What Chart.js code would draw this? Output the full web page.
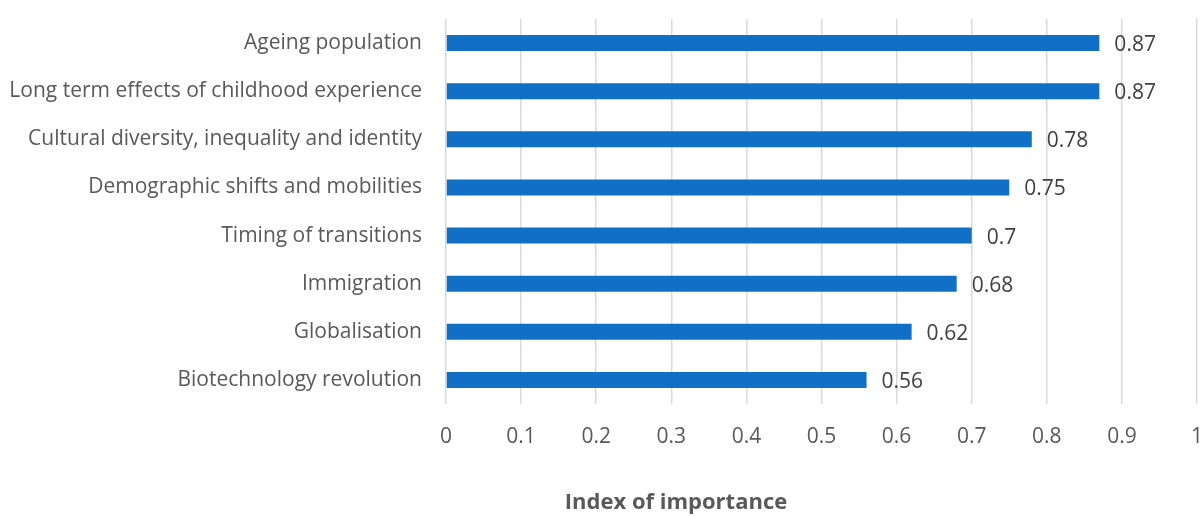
<!DOCTYPE html>
<html>
<head>
<meta charset="utf-8">
<script src="https://cdn.jsdelivr.net/npm/chart.js@4"></script>
<style>
  html, body { margin: 0; padding: 0; background: #fff; overflow: hidden; }
  #wrap { width: 1202px; height: 516px; }
</style>
</head>
<body>
<div id="wrap"><canvas id="importanceChart"></canvas></div>
<script>
const categories = [
  "Ageing population",
  "Long term effects of childhood experience",
  "Cultural diversity, inequality and identity",
  "Demographic shifts and mobilities",
  "Timing of transitions",
  "Immigration",
  "Globalisation",
  "Biotechnology revolution",
];
const importance = [0.87, 0.87, 0.78, 0.75, 0.7, 0.68, 0.62, 0.56];
const axisTitle = "Index of importance";

const FONT = "'Open Sans', 'Liberation Sans', sans-serif";

// value labels beside the bars, plus the x axis title
const valueLabels = {
  id: "valueLabels",
  afterDatasetsDraw(chart) {
    const ctx = chart.ctx;
    const meta = chart.getDatasetMeta(0);
    ctx.save();
    ctx.font = "21px " + FONT;
    ctx.fillStyle = "#404040";
    ctx.textAlign = "left";
    ctx.textBaseline = "middle";
    meta.data.forEach((bar, i) => {
      ctx.fillText(String(importance[i]), bar.x + 15, bar.y + 2);
    });

    ctx.font = "bold 22px " + FONT;
    ctx.fillStyle = "#595959";
    ctx.textAlign = "center";
    ctx.fillText(axisTitle, 676, 503);
    ctx.restore();
  },
};

new Chart(document.getElementById("importanceChart"), {
  type: "bar",
  data: {
    labels: categories,
    datasets: [
      {
        data: importance,
        backgroundColor: "#1170c6",
        categoryPercentage: 1,
        barPercentage: 0.33,
      },
    ],
  },
  options: {
    indexAxis: "y",
    responsive: true,
    maintainAspectRatio: false,
    animation: false,
    layout: { padding: { top: 19, left: 0, right: 0, bottom: 0 } },
    plugins: {
      legend: { display: false },
      tooltip: { enabled: false },
    },
    scales: {
      x: {
        min: 0,
        max: 1,
        ticks: {
          stepSize: 0.1,
          padding: 20,
          color: "#595959",
          font: { family: FONT, size: 21 },
          callback: (v) => String(Math.round(v * 10) / 10),
        },
        grid: { color: "#d9d9d9", lineWidth: 1.5, drawTicks: false },
        border: { display: false },
        afterFit(scale) {
          scale.height = 112;
          scale.paddingRight = 5;
        },
      },
      y: {
        ticks: {
          padding: 16,
          color: "#595959",
          font: { family: FONT, size: 21 },
        },
        grid: { display: false },
        border: { display: false },
        afterFit(scale) {
          scale.width = 446;
          scale.paddingTop = 0;
          scale.paddingBottom = 0;
        },
      },
    },
  },
  plugins: [valueLabels],
});
</script>
</body>
</html>
